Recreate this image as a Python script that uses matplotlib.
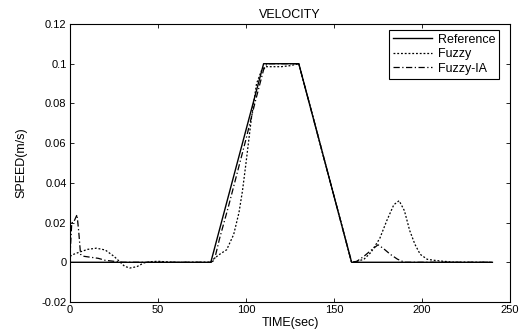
import numpy as np
import matplotlib.pyplot as plt

plt.rcParams['font.family'] = ['Liberation Sans', 'DejaVu Sans']

# reference trajectory
t_ref = [0, 80, 110, 130, 160, 240]
v_ref = [0, 0, 0.1, 0.1, 0, 0]

# fuzzy controller
t_fz = [0, 2, 5, 10, 15, 20, 25, 28, 31, 34, 38, 42, 46, 50, 55, 60, 80,
        82, 85, 89, 93, 96, 98, 100, 103, 106, 109, 111, 115, 120, 125, 130,
        145, 160, 163, 167, 171, 176, 180, 184, 187, 190, 193, 196, 199, 203,
        207, 212, 220, 240]
v_fz = [0.003, 0.004, 0.005, 0.0065, 0.0071, 0.0062, 0.003, 0.0005, -0.002,
        -0.0029, -0.0022, -0.0003, 0.0003, 0.0005, 0.0002, 0, 0,
        0.002, 0.004, 0.0063, 0.014, 0.025, 0.036, 0.05, 0.072, 0.09, 0.097,
        0.0985, 0.0985, 0.0985, 0.099, 0.1,
        0.05, 0, 0.0005, 0.0015, 0.005, 0.012, 0.021, 0.029, 0.031, 0.026,
        0.016, 0.009, 0.004, 0.0015, 0.001, 0.0005, 0, 0]

# fuzzy + IA controller
t_ia = [0, 1, 2, 3, 4, 5, 6, 8, 12, 16, 20, 25, 30, 80, 82, 85, 90, 95, 100,
        105, 110, 112, 130, 160, 163, 167, 171, 175, 178, 182, 186, 190, 240]
v_ia = [0.003, 0.02, 0.02, 0.022, 0.024, 0.015, 0.004, 0.003, 0.0025, 0.002,
        0.001, 0.0005, 0, 0, 0.001, 0.012, 0.028, 0.045, 0.062,
        0.08, 0.097, 0.1, 0.1, 0, 0.0005, 0.003, 0.006, 0.0088, 0.007, 0.004,
        0.0016, 0, 0]

fig = plt.figure(figsize=(5.22, 3.33), dpi=100)
ax = fig.add_axes([70/522, 1-302/333, 440/522, 278/333])

ax.plot(t_ref, v_ref, 'k-', lw=1.0, label='Reference')
ax.plot(t_fz, v_fz, color='k', ls=(0, (1.5, 1.5)), lw=0.9, label='Fuzzy')
ax.plot(t_ia, v_ia, color='k', ls=(0, (5, 2, 1, 2)), lw=0.9, label='Fuzzy-IA')

ax.set_xlim(0, 250)
ax.set_ylim(-0.02, 0.12)
ax.set_xticks([0, 50, 100, 150, 200, 250])
ax.set_yticks([-0.02, 0, 0.02, 0.04, 0.06, 0.08, 0.1, 0.12])
ax.set_yticklabels(['-0.02', '0', '0.02', '0.04', '0.06', '0.08', '0.1', '0.12'])
ax.tick_params(direction='in', top=True, right=True, labelsize=8, length=3,
               width=0.6, pad=2.5)
for s in ax.spines.values():
    s.set_linewidth(0.8)

ax.set_title('VELOCITY', fontsize=9, pad=4)
ax.set_xlabel('TIME(sec)', fontsize=9, labelpad=1)
ax.set_ylabel('SPEED(m/s)', fontsize=9, labelpad=10)

leg = ax.legend(loc='upper right', fontsize=9, fancybox=False, framealpha=1,
                edgecolor='k', bbox_to_anchor=(499/522, 1-30/333),
                bbox_transform=fig.transFigure, borderaxespad=0,
                handlelength=3.1, handletextpad=0.5, labelspacing=0.2,
                borderpad=0.3)
leg.get_frame().set_linewidth(0.8)

fig.savefig('out.png', dpi=100)
